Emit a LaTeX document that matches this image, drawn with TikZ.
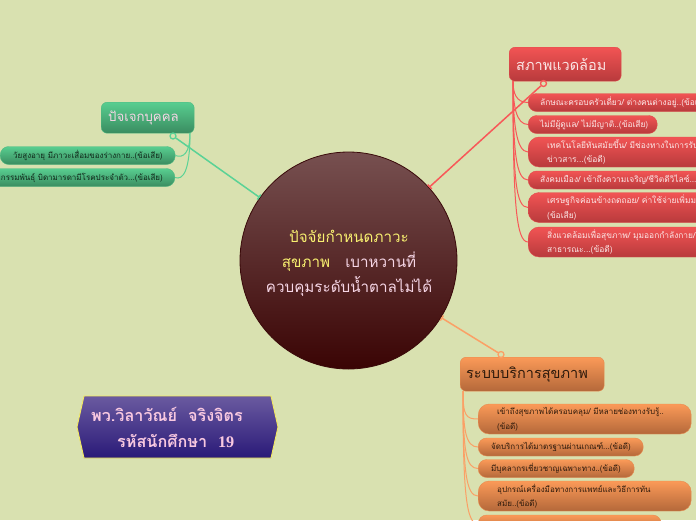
\documentclass[tikz,border=0pt]{standalone}
\usepackage{fontspec}
\usetikzlibrary{arrows.meta,calc}
\setmainfont{Liberation Sans}
\newfontfamily\thaifont[Script=Thai]{Loma}
\newfontfamily\digitfont{Liberation Serif}
\definecolor{bg}{HTML}{D9E1B0}
\definecolor{c1}{HTML}{775050}\definecolor{c2}{HTML}{3A0404}\definecolor{c3}{HTML}{3A0A0A}
\definecolor{cpink}{HTML}{F6D6E6}\definecolor{cyel}{HTML}{F8F070}
\definecolor{pur1}{HTML}{6A5AA0}\definecolor{pur2}{HTML}{2A1A78}\definecolor{puredge}{HTML}{F4EA60}\definecolor{ptxt}{HTML}{F8C8E0}
\definecolor{red1}{HTML}{F25454}\definecolor{red2}{HTML}{B83A3C}\definecolor{redtxt}{HTML}{FBE6E6}
\definecolor{ora1}{HTML}{FB9A58}\definecolor{ora2}{HTML}{B4683A}\definecolor{oratxt}{HTML}{2E1A0C}
\definecolor{grn1}{HTML}{58CE90}\definecolor{grn2}{HTML}{3A8C60}\definecolor{grntxt}{HTML}{10281A}
\definecolor{linkr}{HTML}{F85858}\definecolor{linko}{HTML}{FBA066}\definecolor{linkg}{HTML}{5AD296}
\newcommand{\nb}[1]{\mbox{#1}}
\tikzset{
  every node/.style={font=\thaifont},
  headbox/.style={rectangle,rounded corners=6pt,anchor=north west,minimum height=#1,align=left,inner ysep=0pt},
  itembase/.style={rectangle,anchor=west,align=left,inner ysep=0pt,font=\thaifont\fontsize{8.4}{14.5}\selectfont},
  one/.style={itembase,rounded corners=8.5pt,minimum height=18pt},
  two/.style={itembase,rounded corners=11pt,minimum height=30pt},
  small/.style={font=\thaifont\fontsize{8}{14.5}\selectfont},
  redfill/.style={top color=red1,bottom color=red2,draw=red1!70!red2,text=redtxt},
  orafill/.style={small,top color=ora1,bottom color=ora2,draw=ora1!70!ora2,text=oratxt},
  grnfill/.style={small,top color=grn1,bottom color=grn2,draw=grn1!70!grn2,text=grntxt},
  ring/.style={circle,draw=#1,line width=1.3pt,inner sep=0pt,minimum size=6pt,fill=none},
  mainlink/.style={line width=1.5pt,-{Bar[width=6pt,length=1pt]}},
  sublink/.style={line width=1pt},
  taglabel/.style={text=ptxt,anchor=west,inner sep=0pt,font=\thaifont\bfseries\fontsize{16.2}{18}\selectfont},
}
\begin{document}
\begin{tikzpicture}[x=1pt,y=-1pt]
\useasboundingbox (0,0) rectangle (696,520);
\fill[bg] (0,0) rectangle (696,520);
\clip (0,0) rectangle (696,520);

% centre
\node[circle,minimum size=217pt,inner sep=0pt,top color=c1,bottom color=c2,draw=c3,line width=.8pt] (c) at (348.5,260.5) {};
\node[font=\thaifont\fontsize{15.2}{25}\selectfont,align=center,text=cpink] (ctext) at (349,263) {%
  \textcolor{cyel}{ปัจจัยกำหนดภาวะ}\\
  \textcolor{cyel}{สุขภาพ}\quad เบาหวานที่\\
  ควบคุมระดับน้ำตาลไม่ได้};

% heads
\node[headbox=34pt,minimum width=112pt,top color=red1,bottom color=red2,draw=red1!70!red2,text=redtxt,
  text width=98pt,inner xsep=7pt,font=\thaifont\fontsize{14.5}{16}\selectfont] (r) at (509,47) {สภาพแวดล้อม};
\node[headbox=34pt,minimum width=144pt,top color=ora1,bottom color=ora2,draw=ora1!70!ora2,text=oratxt,
  text width=132pt,inner xsep=6pt,font=\thaifont\fontsize{14.5}{16}\selectfont] (o) at (460,357) {ระบบบริการสุขภาพ};
\node[headbox=31pt,minimum width=93pt,top color=grn1,bottom color=grn2,draw=grn1!70!grn2,text=cpink,
  text width=79pt,inner xsep=7pt,font=\thaifont\fontsize{13.2}{16}\selectfont] (g) at (101,102) {ปัจเจกบุคคล};

% rings and branch starts
\node[ring=linkr] (rr) at (543.5,83.5) {};
\node[ring=linko] (ro) at (501,354.5) {};
\node[ring=linkg] (rg) at (173,136) {};
\coordinate (rs) at (513,81);
\coordinate (os) at (463,391);
\coordinate (gs) at (190,133);

% red items
\node[one,redfill,text width=200pt,inner xsep=12pt] (r1) at (528,102.5) {\nb{ลักษณะครอบครัวเดี่ยว/ ต่างคนต่างอยู่..(ข้อเสีย)}};
\node[one,redfill,text width=105pt,inner xsep=12pt] (r2) at (528,124.5) {\nb{ไม่มีผู้ดูแล/ ไม่มีญาติ..(ข้อเสีย)}};
\node[two,redfill,text width=200pt,inner xsep=19pt] (r3) at (528,152) {\nb{เทคโนโลยีทันสมัยขึ้น/ มีช่องทางในการรับรู้}\\\nb{ข่าวสาร...(ข้อดี)}};
\node[one,redfill,text width=200pt,inner xsep=12pt] (r4) at (528,180) {\nb{สังคมเมือง/ เข้าถึงความเจริญ/ชีวิตดีวิไลซ์...(ข้อเสีย)}};
\node[two,redfill,text width=200pt,inner xsep=19pt] (r5) at (528,207.5) {\nb{เศรษฐกิจค่อนข้างถดถอย/ ค่าใช้จ่ายเพิ่มมากขึ้น}\\\nb{(ข้อเสีย)}};
\node[two,redfill,text width=200pt,inner xsep=19pt] (r6) at (528,242) {\nb{สิ่งแวดล้อมเพื่อสุขภาพ/ มุมออกกำลังกาย/ สวน}\\\nb{สาธารณะ...(ข้อดี)}};

% orange items
\node[two,orafill,text width=175pt,inner xsep=19pt] (o1) at (478,419) {\nb{เข้าถึงสุขภาพได้ครอบคลุม/ มีหลายช่องทางรับรู้..}\\\nb{(ข้อดี)}};
\node[one,orafill,text width=139pt,inner xsep=13pt] (o2) at (478,447) {\nb{จัดบริการได้มาตรฐานผ่านเกณฑ์...(ข้อดี)}};
\node[one,orafill,text width=130pt,inner xsep=13pt] (o3) at (478,468.5) {\nb{มีบุคลากรเชี่ยวชาญเฉพาะทาง..(ข้อดี)}};
\node[two,orafill,text width=175pt,inner xsep=19pt] (o4) at (478,496) {\nb{อุปกรณ์เครื่องมือทางการแพทย์และวิธีการทัน}\\\nb{สมัย..(ข้อดี)}};
\node[one,orafill,text width=157pt,inner xsep=13pt] (o5) at (478,524) {};

% green items
\node[one,grnfill,text width=149pt,inner xsep=13pt] (g1) at (0,155.5) {\nb{วัยสูงอายุ มีภาวะเสื่อมของร่างกาย..(ข้อเสีย)}};
\node[one,grnfill,text width=200pt,inner xsep=12pt,anchor=east,align=right] (g2) at (175,177.5) {\nb{กรรมพันธุ์ บิดามารดามีโรคประจำตัว...(ข้อเสีย)}};

% purple label
\draw[top color=pur1,bottom color=pur2,draw=puredge,line width=.9pt]
  (84,396) -- (271,396) -- (278,427) -- (271,458) -- (84,458) -- (77,427) -- cycle;
\node[taglabel] (p1) at (91,414) {พว.วิลาวัณย์\ \ จริงจิตร};
\node[taglabel] (p2) at (117,441) {รหัสนักศึกษา\ \ {\digitfont 19}};

% main links
\draw[mainlink,linkr] (rr) -- (c);
\draw[mainlink,linko] (ro) -- (c);
\draw[mainlink,linkg] (rg) -- (c);

% branches
\foreach \n/\d in {r1/12,r2/24,r3/40,r4/70,r5/100,r6/120}
  \draw[sublink,linkr] (rs) .. controls +(0,\d) and +(-12,0) .. (\n.west);
\foreach \n/\d in {o1/25,o2/40,o3/60,o4/80,o5/100}
  \draw[sublink,linko] (os) .. controls +(0,\d) and +(-12,0) .. (\n.west);
\draw[sublink,linkg] (gs) .. controls +(0,20) and +(8,3) .. (g1.east);
\draw[sublink,linkg] (gs) .. controls +(0,38) and +(8,3) .. (g2.east);
\end{tikzpicture}
\end{document}
